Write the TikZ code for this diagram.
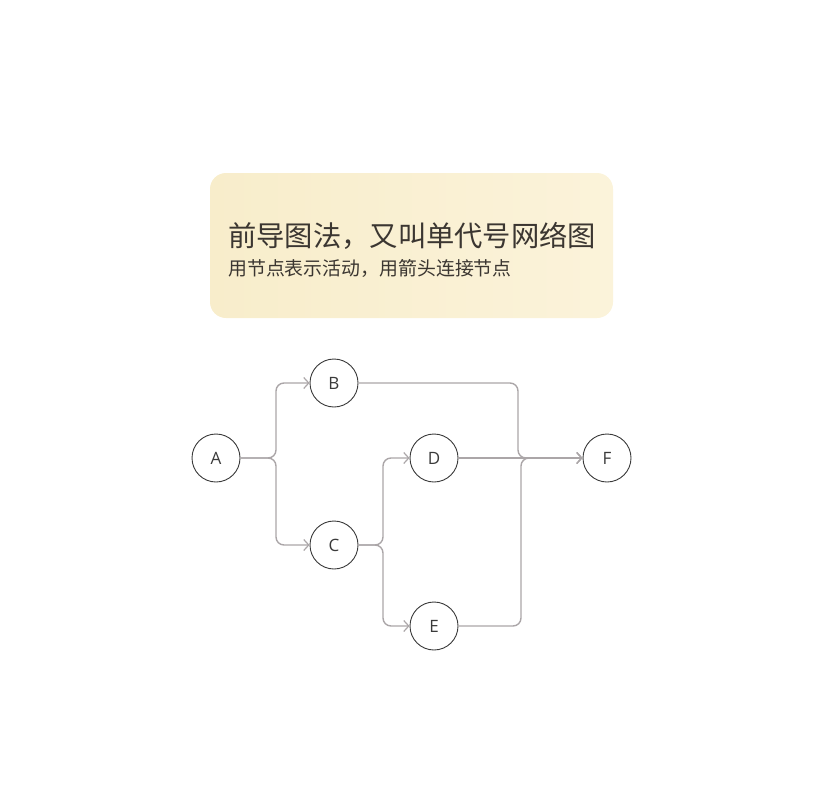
\documentclass[tikz,border=0pt]{standalone}
\usepackage{fontspec}
\setmainfont{Open Sans}
\newfontfamily\cjk{Noto Sans CJK SC}
\usetikzlibrary{arrows.meta,calc}
\definecolor{boxL}{HTML}{F8EDCB}
\definecolor{boxR}{HTML}{FBF3DA}
\definecolor{txt}{HTML}{3B3631}
\definecolor{edge}{HTML}{ABA6A8}
\definecolor{ring}{HTML}{3A3A3A}
\tikzset{
  x=1pt,y=-1pt,
  act/.style={circle,draw=ring,line width=0.9pt,fill=white,minimum size=48pt,inner sep=0pt,font=\fontsize{17}{17}\selectfont,text=ring},
  link/.style={draw=edge,line width=1.4pt,rounded corners=8pt,-{Straight Barb[length=5pt,width=11pt,line width=1.2pt]}},
}
\begin{document}
\begin{tikzpicture}
\useasboundingbox (0,0) rectangle (824,800);
\shade[rounded corners=16pt,left color=boxL,right color=boxR] (210,173) rectangle (613,318);
\node[anchor=west,inner sep=0pt,text=txt,font=\cjk\fontsize{28.3}{28.3}\selectfont] (title) at (228,236) {前导图法，又叫单代号网络图};
\node[anchor=west,inner sep=0pt,text=txt,font=\cjk\fontsize{18.9}{18.9}\selectfont] (sub) at (228,268) {用节点表示活动，用箭头连接节点};
\node[act] (A) at (216,458) {A};
\node[act] (B) at (334,383) {B};
\node[act] (C) at (334,545) {C};
\node[act] (D) at (434,458) {D};
\node[act] (E) at (434,626) {E};
\node[act] (F) at (607,458) {F};
\coordinate (ja) at (276,458);
\coordinate (jc) at (383,545);
\coordinate (jb) at (518,458);
\coordinate (je) at (521,458);
\draw[link] (A.east) -- (ja) |- (B.west);
\draw[link] (A.east) -- (ja) |- (C.west);
\draw[link] (C.east) -- (jc) |- (D.west);
\draw[link] (C.east) -- (jc) |- (E.west);
\draw[link] (B.east) -| (jb) -- (F.west);
\draw[link] (D.east) -- (F.west);
\draw[link] (E.east) -| (je) -- (F.west);
\end{tikzpicture}
\end{document}
